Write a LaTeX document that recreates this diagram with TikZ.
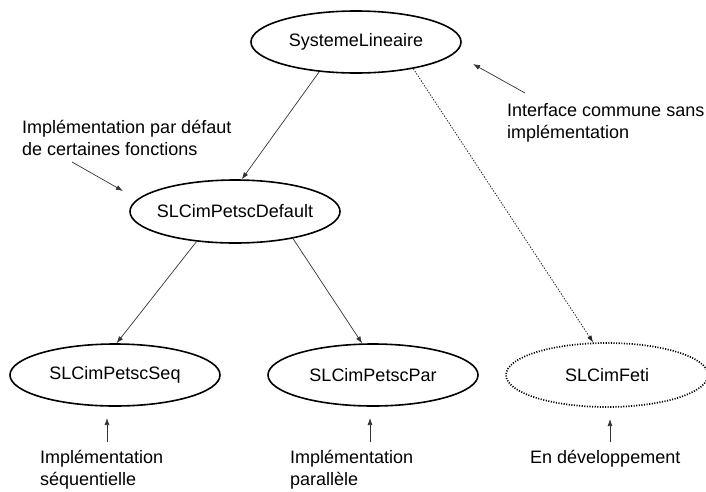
\documentclass[tikz,border=0pt]{standalone}
\usepackage{fontspec}
\setmainfont{Liberation Sans}
\usetikzlibrary{shapes.geometric,arrows.meta}
\begin{document}
\begin{tikzpicture}[x=1pt,y=-1pt,
  cls/.style={draw=black,ellipse,line width=1.6pt,minimum width=210pt,minimum height=62pt,
    inner xsep=-45pt,inner ysep=0pt,font=\fontsize{18}{22}\selectfont},
  devcls/.style={cls,line width=1.7pt,dash pattern=on 1.1pt off 1.5pt},
  link/.style={draw=black!80,line width=0.7pt,-{Latex[length=7pt,width=5pt]}},
  devlink/.style={link,draw=black!85,line width=0.8pt,dash pattern=on 1.4pt off 1.4pt},
  note/.style={font=\fontsize{18}{22}\selectfont,align=left,inner sep=0pt,anchor=base west}]
\useasboundingbox (0,0) rectangle (706,491);

\node[cls] (sl) at (356,42) {SystemeLineaire};
\node[cls,minimum height=63pt] (def) at (235,211.5) {SLCimPetscDefault};
\node[cls] (seq) at (115,375) {SLCimPetscSeq};
\node[cls] (par) at (373,375) {SLCimPetscPar};
\node[devcls,minimum width=202pt,minimum height=64pt] (feti) at (607,375) {SLCimFeti};

\draw[link] (sl.219) -- (def.78);
\draw[link] (def.218) -- (seq.87);
\draw[link] (def.335) -- (par.109);
\draw[devlink] (sl.335) -- (feti.113);

\node[note] (n1) at (22,155) {Implémentation par défaut\\de certaines fonctions};
\coordinate (n1a) at (72,162);
\coordinate (n1b) at (123,191);
\draw[link] (n1a) -- (n1b);

\node[note] (n2) at (507,138) {Interface commune sans\\implémentation};
\coordinate (n2a) at (525,93);
\coordinate (n2b) at (473,64);
\draw[link] (n2a) -- (n2b);

\node[note] (b1) at (40,485) {Implémentation\\séquentielle};
\node[note] (b2) at (290,485) {Implémentation\\parallèle};
\node[note] (b3) at (530,463) {En développement};
\coordinate (b1a) at (107,442); \coordinate (b1b) at (107,418);
\coordinate (b2a) at (370,442); \coordinate (b2b) at (370,418);
\coordinate (b3a) at (610,442); \coordinate (b3b) at (610,419);
\draw[link] (b1a) -- (b1b);
\draw[link] (b2a) -- (b2b);
\draw[link] (b3a) -- (b3b);
\end{tikzpicture}
\end{document}
